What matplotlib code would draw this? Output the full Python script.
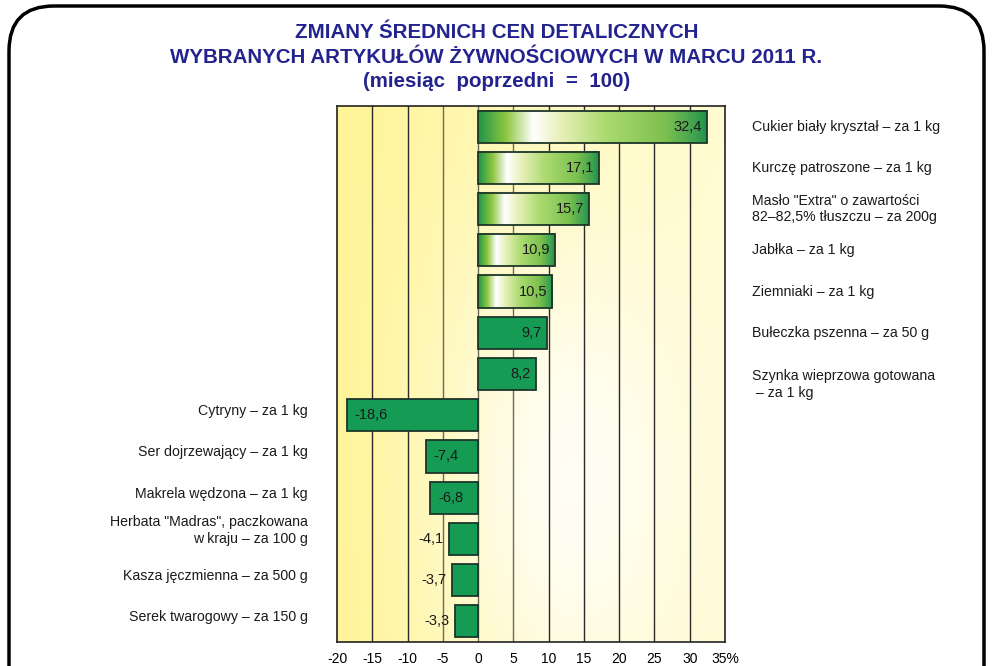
import matplotlib
matplotlib.use('Agg')
import matplotlib.pyplot as plt
import numpy as np
from matplotlib.patches import FancyBboxPatch
from matplotlib.colors import LinearSegmentedColormap

plt.rcParams['font.family'] = ['Liberation Sans', 'DejaVu Sans']

# data
products = ['Cukier biały kryształ – za 1 kg',
            'Kurczę patroszone – za 1 kg',
            'Masło "Extra" o zawartości\n82–82,5% tłuszczu – za 200g',
            'Jabłka – za 1 kg',
            'Ziemniaki – za 1 kg',
            'Bułeczka pszenna – za 50 g',
            'Szynka wieprzowa gotowana\n – za 1 kg',
            'Cytryny – za 1 kg',
            'Ser dojrzewający – za 1 kg',
            'Makrela wędzona – za 1 kg',
            'Herbata "Madras", paczkowana\nw kraju – za 100 g',
            'Kasza jęczmienna – za 500 g',
            'Serek twarogowy – za 150 g']
changes = [32.4, 17.1, 15.7, 10.9, 10.5, 9.7, 8.2,
           -18.6, -7.4, -6.8, -4.1, -3.7, -3.3]
xticks = [-20, -15, -10, -5, 0, 5, 10, 15, 20, 25, 30, 35]
xtick_labels = ['-20', '-15', '-10', '-5', '0', '5', '10', '15', '20', '25', '30', '35%']
n_gradient = 5  # first bars drawn with the shiny gradient

title = ('ZMIANY ŚREDNICH CEN DETALICZNYCH\n'
         'WYBRANYCH ARTYKUŁÓW ŻYWNOŚCIOWYCH W MARCU 2011 R.\n'
         '(miesiąc  poprzedni  =  100)')

fig = plt.figure(figsize=(9.93, 6.66), dpi=100)

# frame with rounded corners, in pixel coordinates
bg = fig.add_axes([0, 0, 1, 1], zorder=0)
bg.set_xlim(0, 993)
bg.set_ylim(666, 0)
bg.axis('off')
bg.add_patch(FancyBboxPatch((9, 6), 975, 720, boxstyle='round,pad=0,rounding_size=45',
                            fc='white', ec='black', lw=2.5, clip_on=False))

fig.text(0.5, 0.9144, title, ha='center', va='center', fontsize=14.8, fontweight='bold',
         color='#23238f', linespacing=1.38)

ax = fig.add_axes([0.3394, 0.036, 0.3907, 0.8048], zorder=1)
ax.set_xlim(-20, 35)
ax.set_ylim(len(changes) - 0.5, -0.5)

# background gradient
u = np.linspace(0, 1, 300)[None, :]
v = np.linspace(0, 1, 300)[:, None]
left = np.array([255, 244, 150]) / 255
right = np.array([255, 251, 208]) / 255
base = left[None, None, :] * (1 - u[..., None]) + right[None, None, :] * u[..., None]
d2 = ((u - 0.6) / 0.35) ** 2 + ((v - 0.7) / 0.5) ** 2
w = np.exp(-d2)[..., None] * 0.85
img = base + (1 - base) * w
ax.imshow(img, extent=[-20, 35, len(changes) - 0.5, -0.5], aspect='auto', zorder=0)

for xv in xticks[1:-1]:
    c = '#6b6b55' if xv in (-5, 0, 5) else '#2a2a2a'
    ax.axvline(xv, color=c, lw=1, zorder=1)

ypos = np.arange(len(changes))
solid = '#169b55'
bars = ax.barh(ypos, changes, height=0.78, color=solid, edgecolor='#1d3528', lw=1.3, zorder=2)

shine = LinearSegmentedColormap.from_list('shine', [
    (0.0, '#1f9448'), (0.12, '#8cc63f'), (0.24, '#ffffff'), (0.36, '#e8f0b8'),
    (0.55, '#addb72'), (0.82, '#7cc04f'), (0.95, '#3ea150'), (1.0, '#1f9448')])
grad = np.linspace(0, 1, 256)[None, :]
for b in bars[:n_gradient]:
    b.set_facecolor('none')
    b.set_zorder(3)
    x0, y0, wd, ht = b.get_x(), b.get_y(), b.get_width(), b.get_height()
    ax.imshow(grad, cmap=shine, extent=[x0, x0 + wd, y0 + ht, y0], aspect='auto', zorder=2)

# value labels
for i, val in enumerate(changes):
    s = f'{val:.1f}'.replace('.', ',')
    if val > 0:
        ax.text(val - 0.7, i, s, ha='right', va='center', fontsize=10.5, color='#1a1a1a', zorder=4)
    elif val < -5:
        ax.text(val + 1.1, i, s, ha='left', va='center', fontsize=10.5, color='#1a1a1a', zorder=4)
    else:
        ax.text(val - 0.8, i, s, ha='right', va='center', fontsize=10.5, color='#1a1a1a', zorder=4)

# category labels
label_shift = {6: 0.25, 10: -0.2}
for i, (name, val) in enumerate(zip(products, changes)):
    dy = label_shift.get(i, 0 if val > 0 else -0.1)
    if val > 0:
        ax.text(38.8, i + dy, name, ha='left', va='center', fontsize=10.2,
                color='#1a1a1a', clip_on=False, linespacing=1.25)
    else:
        ax.text(-24.1, i + dy, name, ha='right', va='center', fontsize=10.2,
                color='#1a1a1a', clip_on=False, linespacing=1.25, multialignment='right')

ax.set_xticks(xticks)
ax.set_xticklabels(xtick_labels, fontsize=10)
ax.set_yticks([])
ax.tick_params(axis='x', length=0, pad=7)
for sp in ax.spines.values():
    sp.set_color('#222222')
    sp.set_linewidth(1.2)

fig.savefig('out.png', dpi=100)
